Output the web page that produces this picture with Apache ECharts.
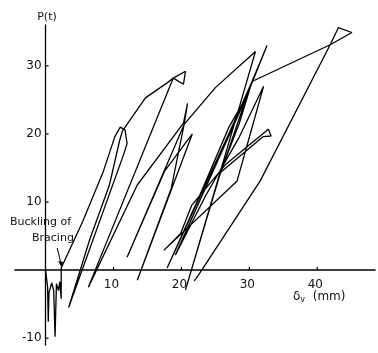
<!DOCTYPE html>
<html>
<head>
<meta charset="utf-8">
<script src="https://cdn.jsdelivr.net/npm/echarts@6/dist/echarts.min.js"></script>
<style>
html,body{margin:0;padding:0;background:#fff;}
#c{width:378px;height:353px;}
</style>
</head>
<body>
<div id="c"></div>
<script>
// displacement δv (mm), load P (t) — hysteresis path
const preBuckling = [[0,0],[0.3,-2.5],[0.4,-7.6],[0.5,-3.3],[0.9,-1.9],[1.2,-3.0],[1.4,-9.8],[1.6,-2.0],[1.9,-3.0],[2.1,-1.7],[2.3,-4.2],[2.3,0.3]];
const cycle1 = [[5.5,7.2],[8.5,14.5],[10.2,19.6],[11.0,21.0],[11.7,20.6],[12.0,18.6],[11.5,17.0],[3.4,-5.5]];
const cycle1Reload = [[6.5,4.5],[9.4,12.5],[10.9,19.0],[11.3,20.4]];
const cycle2 = [[14.7,25.3],[17.9,27.5],[18.8,28.2],[20.6,29.2],[20.3,27.3],[18.8,28.2],[6.3,-2.5]];
const cycle3 = [[13.5,12.5],[20.3,21.6],[20.9,24.5],[20.4,21.4],[12.0,1.9]];
const cycle3b = [[17.5,14.5],[21.6,20.0],[13.5,-1.5]];
const cycle4 = [[18.5,12.0],[20.4,21.4],[25.0,26.8],[30.9,32.1],[28.6,24.2],[20.6,-2.9]];
const cycle5 = [[25.5,13.5],[29.8,26.0],[32.6,33.0],[30.4,27.7],[27.2,20.5],[17.9,0.3]];
const cycle5b = [[22.5,10.5],[27.0,21.0],[29.6,25.5],[19.1,2.2]];
const cycle6 = [[23.6,11.0],[28.5,19.5],[32.1,27.0],[28.2,13.1],[17.4,2.9]];
const cycle7 = [[19.9,5.4],[21.5,9.5],[26.5,15.5],[32.8,20.7],[33.2,19.7],[32.0,19.6],[25.7,14.3]];
const cycle8 = [[28.5,21.5],[30.4,27.7],[41.9,33.1],[43.1,35.6],[45.1,34.9],[41.9,33.1],[31.6,13.1],[22.8,-0.3],[21.9,-1.6]];

const yTicks = [-10,10,20,30];
const xTicks = [10,20,30,40];
const bucklingPoint = [2.3,0.3];

const path = [].concat(preBuckling, cycle1, cycle1Reload, cycle2, cycle3, cycle3b, cycle4, cycle5, cycle5b, cycle6, cycle7, cycle8);

const chart = echarts.init(document.getElementById('c'), null, {renderer:'canvas'});
const font = 'DejaVu Sans';
chart.setOption({
  animation:false,
  backgroundColor:'#fff',
  grid:{left:15,right:3,top:25,bottom:8,outerBoundsMode:'none',containLabel:false},
  xAxis:{
    type:'value',min:-4.5,max:48.5,
    axisLine:{onZero:true,lineStyle:{color:'#000',width:1.6}},
    axisTick:{show:false},
    axisLabel:{show:false},
    splitLine:{show:false}
  },
  yAxis:{
    type:'value',min:-11,max:36,
    axisLine:{onZero:true,lineStyle:{color:'#000',width:1.3}},
    axisTick:{show:false},
    axisLabel:{show:false},
    splitLine:{show:false}
  },
  series:[{
    type:'line',data:path,showSymbol:false,
    lineStyle:{color:'#000',width:1.3},
    silent:true
  }]
});

const g = [];
yTicks.forEach(v => {
  const p = chart.convertToPixel({gridIndex:0}, [0, v]);
  g.push({type:'line',shape:{x1:p[0],y1:p[1],x2:p[0]+3,y2:p[1]},style:{stroke:'#000',lineWidth:1.2}});
  g.push({type:'text',x:p[0]-4,y:p[1],style:{text:String(v),fill:'#111',font:'12px '+font,align:'right',verticalAlign:'middle'}});
});
xTicks.forEach(v => {
  const p = chart.convertToPixel({gridIndex:0}, [v, 0]);
  g.push({type:'line',shape:{x1:p[0],y1:p[1],x2:p[0],y2:p[1]-3},style:{stroke:'#000',lineWidth:1.2}});
  g.push({type:'text',x:p[0]-2,y:p[1]+9,style:{text:String(v),fill:'#111',font:'12px '+font,align:'center',verticalAlign:'top'}});
});
const tip = chart.convertToPixel({gridIndex:0}, bucklingPoint);
g.push(
  {type:'text',x:47,y:17,style:{text:'P(t)',fill:'#111',font:'11px '+font,align:'center',verticalAlign:'middle'}},
  {type:'text',left:10,top:217,style:{text:'Buckling of',fill:'#111',font:'11px '+font}},
  {type:'text',left:32,top:233,style:{text:'Bracing',fill:'#111',font:'11px '+font}},
  {type:'polyline',shape:{points:[[tip[0]-4,tip[1]-20],[tip[0]-2,tip[1]-12],[tip[0],tip[1]-3]]},style:{stroke:'#000',lineWidth:1,fill:null}},
  {type:'polygon',shape:{points:[[tip[0],tip[1]-1],[tip[0]-3,tip[1]-7],[tip[0]+2,tip[1]-6]]},style:{fill:'#000'}},
  {type:'text',left:293,top:291,style:{rich:{a:{font:'12px '+font,fill:'#111'},s:{font:'8px '+font,fill:'#111',verticalAlign:'bottom',padding:[6,0,0,0]}},text:'{a|δ}{s|v}{a|  (mm)}'}}
);
chart.setOption({graphic:g});
</script>
</body>
</html>
